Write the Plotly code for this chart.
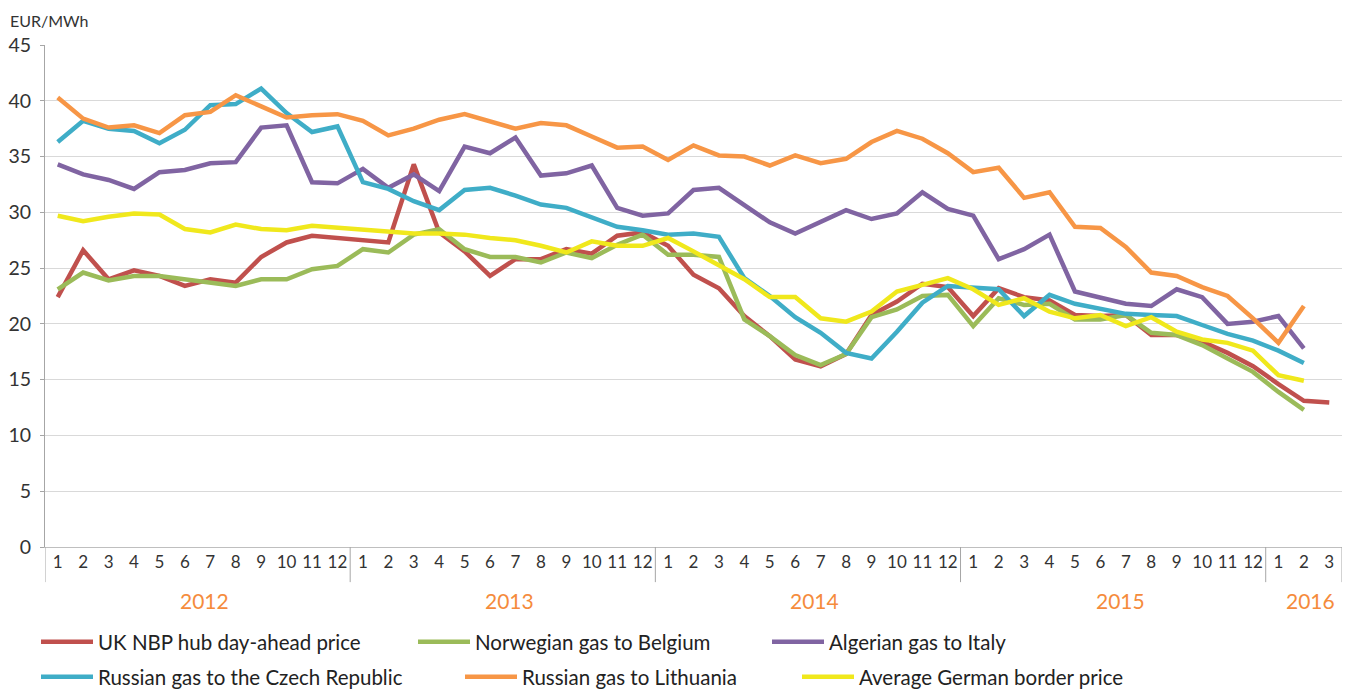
import plotly.graph_objects as go

months = [str(m) for m in range(1, 13)] * 4 + ["1", "2", "3"]
years = ["2012", "2013", "2014", "2015", "2016"]
year_month_counts = [12, 12, 12, 12, 3]

uk_nbp = [22.4, 26.6, 24.0, 24.8, 24.3, 23.4, 24.0, 23.7, 26.0, 27.3, 27.9, 27.7,
          27.4, 27.3, 34.3, 28.2, 26.5, 24.3, 25.8, 25.8, 26.7, 26.3, 27.9, 28.2,
          27.0, 24.4, 23.2, 20.7, 18.9, 16.8, 16.2, 17.3, 20.8, 22.0, 23.6, 23.3,
          20.7, 23.2, 22.4, 22.1, 20.8, 20.7, 20.8, 19.0, 19.0, 18.4, 17.4, 16.2,
          14.6, 13.1, 12.95]
norway_belgium = [23.1, 24.6, 23.9, 24.3, 24.3, 24.0, 23.6, 23.4, 24.0, 24.0, 24.9, 25.2,
                  26.7, 26.4, 28.0, 28.5, 26.7, 26.0, 26.0, 25.5, 26.4, 25.9, 27.1, 28.0,
                  26.2, 26.2, 26.0, 20.4, 18.9, 17.2, 16.3, 17.3, 20.6, 21.3, 22.5, 22.6,
                  19.8, 22.3, 21.7, 21.8, 20.4, 20.4, 20.8, 19.2, 19.0, 18.1, 16.9, 15.7,
                  13.9, 12.3, None]
algeria_italy = [34.3, 33.4, 32.9, 32.1, 33.6, 33.8, 34.4, 34.5, 37.6, 37.8, 32.7, 32.6,
                 33.9, 32.2, 33.4, 31.9, 35.9, 35.3, 36.7, 33.3, 33.5, 34.2, 30.4, 29.7,
                 29.9, 32.0, 32.2, 30.7, 29.1, 28.1, 29.1, 30.2, 29.4, 29.9, 31.8, 30.3,
                 29.7, 25.8, 26.7, 28.0, 22.9, 22.4, 21.8, 21.6, 23.1, 22.4, 20.0, 20.2,
                 20.7, 17.8, None]
russia_czech = [36.3, 38.2, 37.5, 37.3, 36.2, 37.4, 39.6, 39.7, 41.1, 38.9, 37.2, 37.7,
                32.7, 32.1, 31.0, 30.2, 32.0, 32.2, 31.5, 30.7, 30.4, 29.5, 28.7, 28.4,
                28.0, 28.1, 27.8, 24.1, 22.5, 20.6, 19.2, 17.4, 16.9, 19.3, 21.9, 23.4,
                23.3, 23.1, 20.7, 22.6, 21.8, 21.4, 20.9, 20.8, 20.7, 19.9, 19.1, 18.5,
                17.6, 16.5, None]
russia_lithuania = [40.3, 38.4, 37.6, 37.8, 37.1, 38.7, 39.0, 40.5, 39.5, 38.5, 38.7, 38.8,
                    38.2, 36.9, 37.5, 38.3, 38.8, 38.2, 37.5, 38.0, 37.8, 36.8, 35.8, 35.9,
                    34.7, 36.0, 35.1, 35.0, 34.2, 35.1, 34.4, 34.8, 36.3, 37.3, 36.6, 35.3,
                    33.6, 34.0, 31.3, 31.8, 28.7, 28.6, 26.9, 24.6, 24.3, 23.3, 22.5, 20.5,
                    18.3, 21.6, None]
german_border = [29.7, 29.2, 29.6, 29.9, 29.8, 28.5, 28.2, 28.9, 28.5, 28.4, 28.8, 28.6,
                 28.5, 28.2, 28.1, 28.1, 28.0, 27.7, 27.5, 27.0, 26.4, 27.4, 27.0, 27.0,
                 27.7, 26.5, 25.3, 24.0, 22.4, 22.4, 20.5, 20.2, 21.1, 22.9, 23.5, 24.1,
                 23.1, 21.7, 22.3, 21.1, 20.5, 20.8, 19.8, 20.6, 19.3, 18.6, 18.3, 17.6,
                 15.4, 14.9, None]

series = [
    ("UK NBP hub day-ahead price", uk_nbp, "#C0504D"),
    ("Norwegian gas to Belgium", norway_belgium, "#9BBB59"),
    ("Algerian gas to Italy", algeria_italy, "#8064A2"),
    ("Russian gas to the Czech Republic", russia_czech, "#3FADC7"),
    ("Russian gas to Lithuania", russia_lithuania, "#F79646"),
    ("Average German border price", german_border, "#F0E81C"),
]

# the page body adds an 8px offset; figure is sized to fit the window
W, H = 1346, 683
FONT = "Lato, 'Open Sans', sans-serif"
x_idx = list(range(len(months)))

# legend entry anchor points (figure pixels): left x, centre y
legend_x = [28, 405, 759, 28, 452, 789]
legend_y = [634, 634, 634, 669, 669, 669]
legend_names = ["legend", "legend2", "legend3", "legend4", "legend5", "legend6"]

fig = go.Figure()
for (name, vals, color), lg in zip(series, legend_names):
    fig.add_trace(go.Scatter(
        x=x_idx, y=vals, mode="lines", name=name, legend=lg,
        line=dict(color=color, width=4.5), connectgaps=False,
    ))

# year separators / edges below the axis
bounds = [-0.5]
acc = -0.5
for c in year_month_counts:
    acc += c
    bounds.append(acc)
for b in bounds:
    fig.add_shape(type="line", xref="x", yref="paper", x0=b, x1=b, y0=0, y1=-0.07,
                  line=dict(color="#A6A6A6", width=1))

# year labels
start = 0
for yr, c in zip(years, year_month_counts):
    center = start + (c - 1) / 2
    fig.add_annotation(x=center, y=-0.106, xref="x", yref="paper", text=yr,
                       showarrow=False, xshift=7, yanchor="middle",
                       font=dict(family=FONT, size=21, color="#F58B3C"))
    start += c

fig.add_annotation(xref="paper", yref="paper", x=-0.0285, y=1.0, yanchor="bottom",
                   xanchor="left", yshift=13, text="EUR/MWh", showarrow=False,
                   font=dict(family=FONT, size=16, color="#333333"))

legend_layout = {}
for lg, lx, ly in zip(legend_names, legend_x, legend_y):
    legend_layout[lg] = dict(
        orientation="h", xanchor="left", yanchor="middle",
        xref="container", yref="container",
        x=lx / W, y=(H - ly) / H,
        font=dict(family=FONT, size=20.5, color="#222222"),
        itemwidth=52, bgcolor="rgba(0,0,0,0)",
    )

fig.update_layout(
    width=W, height=H,
    margin=dict(l=37, r=12, t=37, b=144, autoexpand=False),
    paper_bgcolor="white", plot_bgcolor="white",
    font=dict(family=FONT, color="#333333"),
    showlegend=True,
    xaxis=dict(range=[-0.5, 50.5], tickmode="array", tickvals=x_idx, ticktext=months,
               showgrid=False, showline=True, linecolor="#BFBFBF", linewidth=1,
               ticks="", tickfont=dict(family=FONT, size=17, color="#333333"),
               zeroline=False, fixedrange=True),
    yaxis=dict(range=[0, 45], tickmode="array", tickvals=list(range(0, 46, 5)),
               showgrid=True, gridcolor="#D9D9D9", gridwidth=1.3,
               showline=True, linecolor="#A6A6A6", linewidth=1,
               ticks="outside", ticklen=4, tickcolor="#A6A6A6", ticklabelstandoff=5,
               tickfont=dict(family=FONT, size=19.5, color="#333333"),
               zeroline=False, fixedrange=True),
    **legend_layout,
)

fig.write_html("out.html")
